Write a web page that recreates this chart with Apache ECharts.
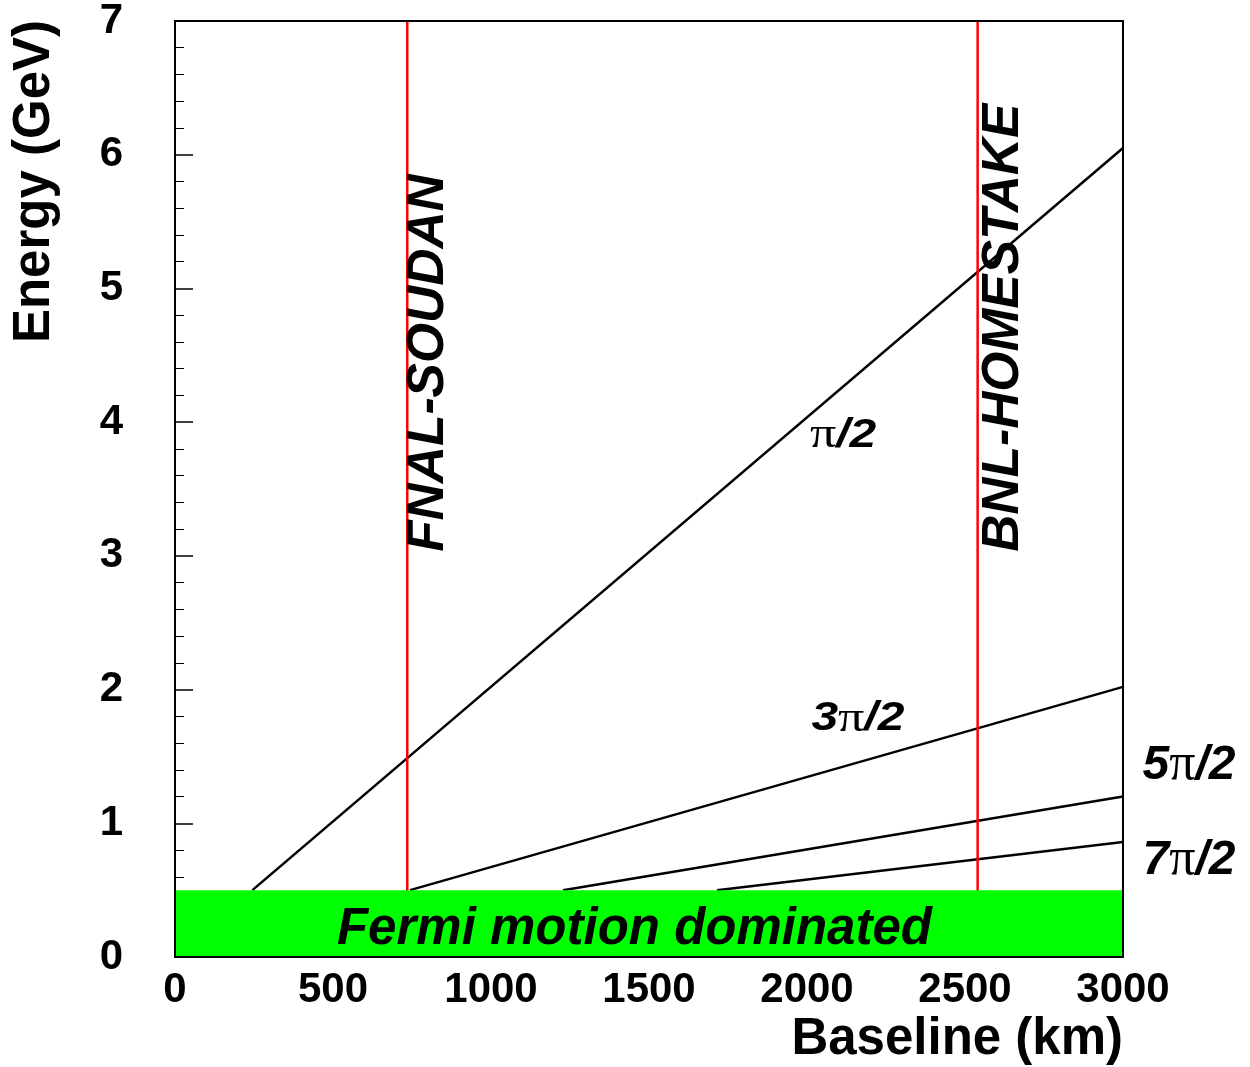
<!DOCTYPE html>
<html><head><meta charset="utf-8">
<script src="https://cdn.jsdelivr.net/npm/echarts@6/dist/echarts.min.js"></script>
<style>html,body{margin:0;padding:0;background:#fff}#c{width:1250px;height:1067px}</style>
</head><body><div id="c"></div>
<script>
// ---- data ----
const xTickLabels = ['0', '500', '1000', '1500', '2000', '2500', '3000'];
const yTickLabels = ['0', '1', '2', '3', '4', '5', '6', '7'];
const phaseNames = ['π/2', '3π/2', '5π/2', '7π/2'];
const phaseStartKm = [245, 744, 1228, 1715];
const phaseStartGeV = [0.5, 0.5, 0.5, 0.5];
const phaseEndKm = [3000, 3000, 3000, 3000];
const phaseEndGeV = [6.05, 2.02, 1.20, 0.86];
const experimentNames = ['FNAL-SOUDAN', 'BNL-HOMESTAKE'];
const experimentKm = [735, 2540];
const fermiBandKm = [0, 3000];
const fermiBandGeV = [0, 0.5];
const fermiLabel = 'Fermi motion dominated';

// ---- annotation anchors (data units) and styling ----
const phaseLabelAnchor = [[2114, 3.90], [2161, 1.78], [3209, 1.43], [3209, 0.72]];
const phaseLabelScaleY = [0.85, 0.85, 1, 1];
const experimentLabelStartGeV = 3.03;
const experimentLabelDx = [22, 26];
const fermiLabelAnchor = [1454, 0.2];

const SANS = '"Liberation Sans", Arial, sans-serif';
const SERIF = '"Liberation Serif", "Times New Roman", serif';

const chart = echarts.init(document.getElementById('c'), null, {renderer: 'canvas'});

const series = [];
phaseNames.forEach((n, i) => {
  series.push({
    name: n, type: 'line', silent: true, symbol: 'none', z: 3,
    data: [[phaseStartKm[i], phaseStartGeV[i]], [phaseEndKm[i], phaseEndGeV[i]]],
    lineStyle: {color: '#000', width: 2.5}
  });
});
experimentNames.forEach((n, i) => {
  series.push({
    name: n, type: 'line', silent: true, symbol: 'none', z: 3,
    data: [[experimentKm[i], fermiBandGeV[0]], [experimentKm[i], 7]],
    lineStyle: {color: '#ff0000', width: 2.5}
  });
});
series.push({
  name: 'fermi', type: 'line', silent: true, symbol: 'none', z: 5,
  data: [[fermiBandKm[0], fermiBandGeV[1]], [fermiBandKm[1], fermiBandGeV[1]]],
  lineStyle: {width: 0, color: '#00ff00'},
  areaStyle: {color: '#00ff00', opacity: 1}
});

chart.setOption({
  animation: false,
  backgroundColor: '#fff',
  grid: {left: 175, right: 127, top: 21, bottom: 110, containLabel: false},
  xAxis: {
    type: 'value', min: 0, max: 3000, interval: 500,
    axisLine: {show: false},
    axisTick: {show: false},
    splitLine: {show: false},
    axisLabel: {
      margin: 12, color: '#000', fontFamily: SANS, fontWeight: 'bold', fontSize: 42,
      formatter: (v) => xTickLabels[Math.round(v / 500)] ?? ''
    }
  },
  yAxis: {
    type: 'value', min: 0, max: 7, interval: 1,
    axisLine: {show: false},
    axisTick: {show: true, inside: true, length: 18, lineStyle: {color: '#000', width: 1.5}},
    minorTick: {show: true, splitNumber: 5, length: 9, lineStyle: {color: '#000', width: 1}},
    splitLine: {show: false},
    axisLabel: {
      margin: 52, color: '#000', fontFamily: SANS, fontWeight: 'bold', fontSize: 42,
      padding: [7, 0, 0, 0],
      formatter: (v) => yTickLabels[Math.round(v)] ?? ''
    }
  },
  series: series
});

function px(x, y) { return chart.convertToPixel({gridIndex: 0}, [x, y]); }

const tl = px(fermiBandKm[0], 7), br = px(fermiBandKm[1], 0);
const graphics = [];
// frame
graphics.push({
  type: 'rect', z: 100, silent: true,
  shape: {x: tl[0], y: tl[1], width: br[0] - tl[0], height: br[1] - tl[1]},
  style: {fill: null, stroke: '#000', lineWidth: 2}
});
// axis titles
graphics.push({
  type: 'text', z: 100, silent: true, x: 35, y: tl[1] - 1, rotation: Math.PI / 2,
  style: {text: 'Energy (GeV)', font: 'bold 51px ' + SANS, fill: '#000', align: 'right', verticalAlign: 'middle'}
});
graphics.push({
  type: 'text', z: 100, silent: true, x: br[0], y: 1040,
  style: {text: 'Baseline (km)', font: 'bold 51px ' + SANS, fill: '#000', align: 'right', verticalAlign: 'middle'}
});
// experiment labels
experimentNames.forEach((n, i) => {
  const p = px(experimentKm[i], experimentLabelStartGeV);
  graphics.push({
    type: 'text', z: 100, silent: true, x: p[0] + experimentLabelDx[i], y: p[1], rotation: Math.PI / 2,
    style: {text: n, font: 'italic bold 51.5px ' + SANS, fill: '#000', align: 'left', verticalAlign: 'middle'}
  });
});
// phase labels
phaseNames.forEach((n, i) => {
  const p = px(phaseLabelAnchor[i][0], phaseLabelAnchor[i][1]);
  const parts = n.split('π');
  let txt = '';
  if (parts[0]) txt += '{n|' + parts[0] + '}';
  txt += '{p|π}{n|' + parts[1] + '}';
  graphics.push({
    type: 'text', z: 100, silent: true, x: p[0], y: p[1], scaleX: 1, scaleY: phaseLabelScaleY[i],
    style: {
      text: txt, align: 'center', verticalAlign: 'middle', fill: '#000',
      rich: {
        n: {fontFamily: SANS, fontWeight: 'bold', fontStyle: 'italic', fontSize: 48, fill: '#000'},
        p: {fontFamily: SERIF, fontWeight: 'normal', fontSize: 52, fill: '#000'}
      }
    }
  });
});
// Fermi label
const fp = px(fermiLabelAnchor[0], fermiLabelAnchor[1]);
graphics.push({
  type: 'text', z: 100, silent: true, x: fp[0], y: fp[1],
  style: {text: fermiLabel, font: 'italic bold 51px ' + SANS, fill: '#000', align: 'center', verticalAlign: 'middle'}
});

chart.setOption({graphic: {elements: graphics}});
</script>
</body></html>
